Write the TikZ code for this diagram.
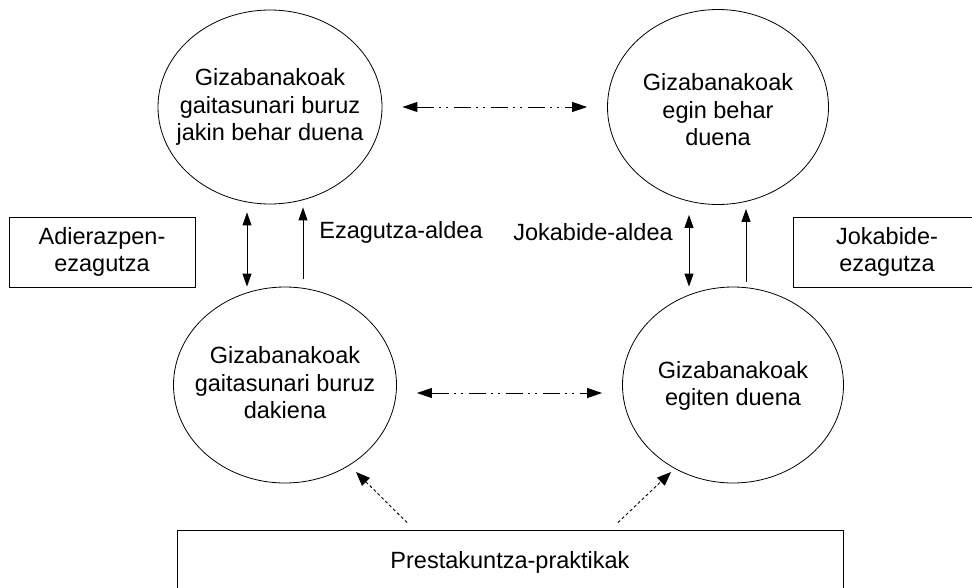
\documentclass[tikz,border=0pt]{standalone}
\usepackage{fontspec}
\setmainfont{Liberation Sans}
\usetikzlibrary{shapes.geometric,arrows.meta,calc}
\begin{document}
\begin{tikzpicture}[x=1pt,y=-1pt,
  every node/.style={font=\fontsize{23.5}{27.5}\selectfont},
  oval/.style={draw,line width=0.8pt,ellipse,inner sep=0pt},
  ovaltext/.style={align=center,inner sep=0pt},
  sidebox/.style={draw,line width=0.9pt,rectangle,inner sep=0pt,align=center},
  solidarrow/.style={line width=0.9pt,-{Triangle[length=13pt,width=9pt]}},
  dblarrow/.style={line width=0.9pt,{Triangle[length=13pt,width=9pt]}-{Triangle[length=13pt,width=9pt]}},
  dashdotarrow/.style={line width=1pt,
    dash pattern=on 17pt off 5pt on 2pt off 5pt on 2pt off 6pt,
    {Triangle[length=15pt,width=10pt]}-{Triangle[length=15pt,width=10pt]},
    shorten <=20pt, shorten >=20pt},
  dotarrow/.style={line width=0.9pt,dash pattern=on 3pt off 2.5pt,
    -{Triangle[length=14pt,width=11pt]}}
]
\clip (0,0) rectangle (972,587);
\useasboundingbox (0,0) rectangle (972,587);

\node[oval,minimum width=224pt,minimum height=194pt] (tl) at (270,107) {};
\node[ovaltext] (tlt) at (tl.center) {Gizabanakoak\\gaitasunari buruz\\jakin behar duena};
\node[oval,minimum width=221pt,minimum height=195pt] (tr) at (718,107) {};
\node[ovaltext] (trt) at ([yshift=-3pt]tr.center) {Gizabanakoak\\egin behar\\duena};
\node[oval,minimum width=223pt,minimum height=196pt] (bl) at (285,385) {};
\node[ovaltext] (blt) at ([yshift=2pt]bl.center) {Gizabanakoak\\gaitasunari buruz\\dakiena};
\node[oval,minimum width=221pt,minimum height=196pt] (br) at (733,385) {};
\node[ovaltext] (brt) at ([yshift=-1pt]br.center) {Gizabanakoak\\egiten duena};

\node[sidebox,minimum width=186pt,minimum height=70pt] (ad) at (102,252)
  {Adierazpen-\\ezagutza};
\node[sidebox,minimum width=188pt,minimum height=70pt] (jo) at (887,252)
  {Jokabide-\\ezagutza};
\node[sidebox,minimum width=666pt,minimum height=64pt] (pr) at (510,562)
  {Prestakuntza-praktikak};

\node (ezl) at (401,232) {Ezagutza-aldea};
\node (jol) at (593,232) {Jokabide-aldea};

% horizontal dash-dot arrows
\draw[dashdotarrow] (tl) -- (tr);
\draw[dashdotarrow] ([yshift=-8pt]bl.east) -- ([yshift=-8pt]br.west);

% vertical arrows left
\draw[dblarrow] ($(tl.south)+(-23,8)$) -- ($(bl.north)+(-38,0)$);
\draw[solidarrow] ($(bl.north)+(18,-8)$) -- ($(tl.south)+(33,3)$);
% vertical arrows right
\draw[dblarrow] ($(tr.south)+(-29,10)$) -- ($(br.north)+(-44,0)$);
\draw[solidarrow] ($(br.north)+(13,-5)$) -- ($(tr.south)+(28,4)$);

% dotted arrows from bottom box
\draw[dotarrow] ($(pr.north)+(-103,-7)$) -- ($(bl.center)+(71,87)$);
\draw[dotarrow] ($(pr.north)+(108,-7)$) -- ($(br.center)+(-62,87)$);
\end{tikzpicture}
\end{document}
